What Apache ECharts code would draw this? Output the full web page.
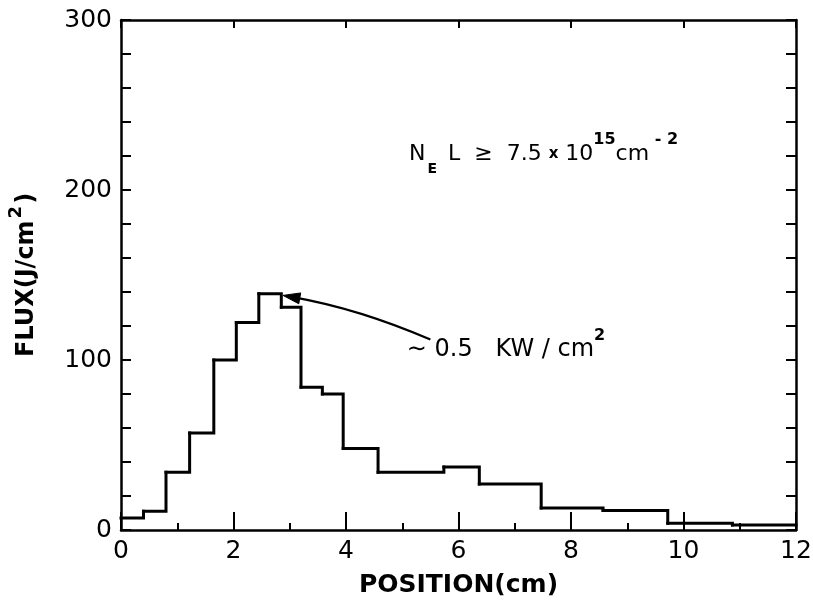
<!DOCTYPE html>
<html>
<head>
<meta charset="utf-8">
<script src="https://cdn.jsdelivr.net/npm/echarts@6/dist/echarts.min.js"></script>
<style>
html,body{margin:0;padding:0;background:#fff;}
#c{width:813px;height:602px;}
</style>
</head>
<body>
<div id="c"></div>
<script>
// Bin edges (cm) and flux per bin (J/cm^2)
const binEdges = [0, 0.4, 0.8, 1.22, 1.65, 2.05, 2.45, 2.85, 3.2, 3.58, 3.95, 4.57, 5.74, 6.37, 7.47, 8.57, 9.72, 10.87, 12];
const fluxValues = [7, 11, 34, 57, 100, 122, 139, 131, 84, 80, 48, 34, 37, 27, 13, 11.5, 4, 3];
const xTickLabels = [0, 2, 4, 6, 8, 10, 12];
const yTickLabels = [0, 100, 200, 300];
const xTitle = 'POSITION(cm)';
const arrowTip = [2.88, 138];
const arrowTail = [5.5, 112];

// one item per bin: [left edge, right edge, flux, next flux]
const binData = fluxValues.map((f, i) => [binEdges[i], binEdges[i + 1], f, i + 1 < fluxValues.length ? fluxValues[i + 1] : f]);

const FONT = 'DejaVu Sans';
const chart = echarts.init(document.getElementById('c'), null, {renderer: 'canvas'});

const lineStyle = {color: '#000', width: 2.5};
chart.setOption({
  animation: false,
  backgroundColor: '#fff',
  grid: {left: 121, right: 17, top: 20, bottom: 72, containLabel: false, outerBoundsMode: 'none'},
  xAxis: [
    {
      type: 'value', position: 'bottom', min: 0, max: 12, interval: 2,
      name: xTitle, nameLocation: 'middle', nameGap: 43,
      nameTextStyle: {fontFamily: FONT, fontSize: 25, fontWeight: 'bold', color: '#000'},
      axisLine: {show: true, onZero: false, lineStyle: lineStyle},
      axisTick: {show: true, inside: true, length: 18, lineStyle: {color: '#000', width: 2}},
      minorTick: {show: true, splitNumber: 2, length: 7, lineStyle: {color: '#000', width: 2}},
      splitLine: {show: false},
      axisLabel: {
        margin: 9, fontFamily: FONT, fontSize: 25, color: '#000',
        formatter: v => xTickLabels.includes(v) ? String(v) : ''
      }
    },
    {
      type: 'value', position: 'top', min: 0, max: 12, interval: 2,
      axisLine: {show: true, onZero: false, lineStyle: lineStyle},
      axisTick: {show: true, inside: true, length: 8, lineStyle: {color: '#000', width: 2}},
      axisLabel: {show: false}, splitLine: {show: false}
    }
  ],
  yAxis: [
    {
      type: 'value', position: 'left', min: 0, max: 300, interval: 100,
      name: '{t|FLUX(J/cm}{s|2}{t|)}', nameLocation: 'middle', nameGap: 74, nameRotate: 90,
      nameTextStyle: {
        rich: {
          t: {fontFamily: FONT, fontSize: 24, fontWeight: 'bold', color: '#000', verticalAlign: 'middle', lineHeight: 40},
          s: {fontFamily: FONT, fontSize: 18, fontWeight: 'bold', color: '#000', verticalAlign: 'top', lineHeight: 40, padding: [0, 2, 0, 2]}
        }
      },
      axisLine: {show: true, onZero: false, lineStyle: lineStyle},
      axisTick: {show: true, inside: true, length: 10, lineStyle: {color: '#000', width: 2}},
      minorTick: {show: true, splitNumber: 5, length: 10, lineStyle: {color: '#000', width: 2}},
      splitLine: {show: false},
      axisLabel: {
        margin: 9, fontFamily: FONT, fontSize: 25, color: '#000',
        formatter: v => yTickLabels.includes(v) ? String(v) : ''
      }
    },
    {
      type: 'value', position: 'right', min: 0, max: 300, interval: 100,
      axisLine: {show: true, onZero: false, lineStyle: lineStyle},
      axisTick: {show: true, inside: true, length: 10, lineStyle: {color: '#000', width: 2}},
      minorTick: {show: true, splitNumber: 5, length: 10, lineStyle: {color: '#000', width: 2}},
      axisLabel: {show: false}, splitLine: {show: false}
    }
  ],
  series: [{
    type: 'custom', xAxisIndex: 0, yAxisIndex: 0,
    data: binData,
    encode: {x: [0, 1], y: [2, 3]},
    renderItem: function (params, api) {
      const a = api.coord([api.value(0), api.value(2)]);
      const b = api.coord([api.value(1), api.value(2)]);
      const c = api.coord([api.value(1), api.value(3)]);
      return {
        type: 'polyline',
        shape: {points: [a, b, c]},
        style: {stroke: '#000', lineWidth: 3, fill: null, lineJoin: 'miter', lineCap: 'square'}
      };
    }
  }]
});

function px(pt) { return chart.convertToPixel({xAxisIndex: 0, yAxisIndex: 0}, pt); }

const tip = px(arrowTip);
const tail = px(arrowTail);
const mid = [(tip[0] + tail[0]) / 2, (tip[1] + tail[1]) / 2];
const dx = tail[0] - tip[0], dy = tail[1] - tip[1];
const len = Math.hypot(dx, dy);
const nx = dy / len, ny = -dx / len;
const ctrl = [mid[0] + nx * 9, mid[1] + ny * 9];
let tx = ctrl[0] - tip[0], ty = ctrl[1] - tip[1];
const tl = Math.hypot(tx, ty); tx /= tl; ty /= tl;
const hl = 17, hw = 5.5;
const base = [tip[0] + tx * hl, tip[1] + ty * hl];
const head = [tip, [base[0] - ty * hw, base[1] + tx * hw], [base[0] + ty * hw, base[1] - tx * hw]];

const label1 = px([5.12, 221]);
const label2 = px([5.08, 106]);

chart.setOption({
  graphic: [
    {
      type: 'bezierCurve',
      shape: {x1: tail[0], y1: tail[1], x2: tip[0] + tx * 10, y2: tip[1] + ty * 10, cpx1: ctrl[0], cpy1: ctrl[1]},
      style: {stroke: '#000', lineWidth: 2.2, fill: null}
    },
    {
      type: 'polygon',
      shape: {points: head},
      style: {fill: '#000', stroke: '#000', lineWidth: 1}
    },
    {
      type: 'text', left: label1[0], top: label1[1] - 22,
      style: {
        text: '{m|N}{sb|E}{m| L  ≥  7.5 }{x|x}{m| 10}{sp|15}{m|cm}{sp| - 2}',
        rich: {
          m: {fontFamily: FONT, fontSize: 22, color: '#000', verticalAlign: 'middle', lineHeight: 44},
          x: {fontFamily: FONT, fontSize: 15, fontWeight: 'bold', color: '#000', verticalAlign: 'middle', lineHeight: 44},
          sb: {fontFamily: FONT, fontSize: 14, fontWeight: 'bold', color: '#000', verticalAlign: 'bottom', lineHeight: 40, padding: [0, 4, 0, 2]},
          sp: {fontFamily: FONT, fontSize: 16, fontWeight: 'bold', color: '#000', verticalAlign: 'top', lineHeight: 44}
        }
      }
    },
    {
      type: 'text', left: label2[0], top: label2[1] - 22,
      style: {
        text: '{m|∼ 0.5   KW / cm}{sp|2}',
        rich: {
          m: {fontFamily: FONT, fontSize: 24, color: '#000', verticalAlign: 'middle', lineHeight: 44},
          sp: {fontFamily: FONT, fontSize: 16, fontWeight: 'bold', color: '#000', verticalAlign: 'top', lineHeight: 44}
        }
      }
    }
  ]
});
</script>
</body>
</html>
